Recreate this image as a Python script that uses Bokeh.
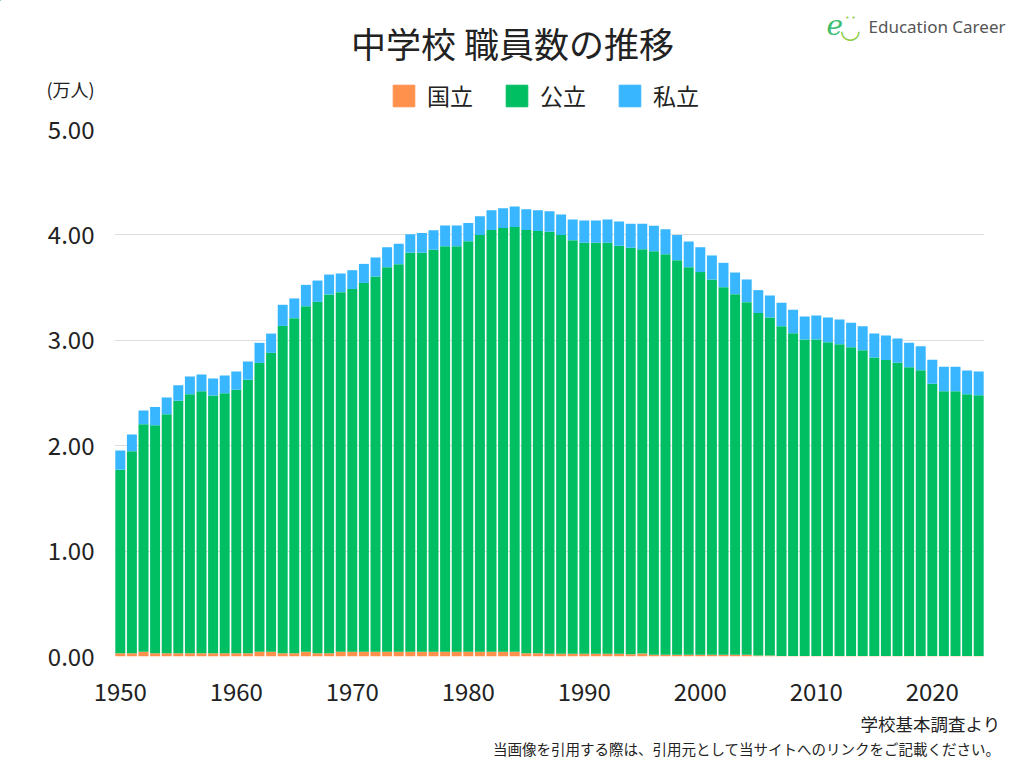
from bokeh.plotting import figure
from bokeh.layouts import column
from bokeh.models import (ColumnDataSource, Legend, LegendItem, Label, FixedTicker,
                          NumeralTickFormatter, Range1d)
from bokeh.embed import file_html
from bokeh.resources import INLINE

years = list(range(1950, 2025))

national = [0.031, 0.031, 0.044] + [0.031] * 9 + [0.044, 0.044, 0.031, 0.031, 0.044, 0.031, 0.031] \
    + [0.044] * 16 + [0.031, 0.031] + [0.027] * 7 + [0.022, 0.029] + [0.017] * 9 \
    + [0.010, 0.010] + [0.004] * 18

public = [1.740, 1.917, 2.160, 2.164, 2.268, 2.395, 2.458, 2.486, 2.445, 2.467,
          2.499, 2.594, 2.742, 2.837, 3.106, 3.179, 3.279, 3.334, 3.404, 3.413,
          3.443, 3.500, 3.561, 3.649, 3.678, 3.786, 3.786, 3.814, 3.849, 3.849,
          3.896, 3.956, 4.003, 4.022, 4.031, 4.016, 4.007, 4.002, 3.973, 3.923,
          3.898, 3.898, 3.898, 3.869, 3.855, 3.835, 3.829, 3.800, 3.743, 3.677,
          3.630, 3.560, 3.487, 3.421, 3.345, 3.249, 3.206, 3.130, 3.064, 3.004,
          3.004, 2.978, 2.959, 2.931, 2.902, 2.833, 2.808, 2.782, 2.741, 2.712,
          2.583, 2.513, 2.513, 2.485, 2.475]

private = [0.183, 0.158, 0.130, 0.171, 0.158, 0.148, 0.168, 0.159, 0.162, 0.168,
           0.174, 0.174, 0.190, 0.183, 0.200, 0.187, 0.203, 0.202, 0.189, 0.177,
           0.178, 0.181, 0.181, 0.190, 0.193, 0.177, 0.187, 0.187, 0.196, 0.196,
           0.174, 0.177, 0.187, 0.187, 0.194, 0.197, 0.196, 0.196, 0.194, 0.196,
           0.212, 0.212, 0.221, 0.231, 0.228, 0.241, 0.240, 0.237, 0.238, 0.243,
           0.237, 0.228, 0.231, 0.205, 0.215, 0.217, 0.209, 0.222, 0.222, 0.218,
           0.227, 0.234, 0.234, 0.231, 0.228, 0.228, 0.234, 0.231, 0.231, 0.228,
           0.228, 0.231, 0.231, 0.224, 0.225]

series_names = ["国立", "公立", "私立"]
series_keys = ["national", "public", "private"]
colors = ["#FF914D", "#00BF63", "#38B6FF"]
y_ticks = [0, 1, 2, 3, 4, 5]
x_ticks = [1950, 1960, 1970, 1980, 1990, 2000, 2010, 2020]

FONT = "Noto Sans CJK JP"
W = 1010
HEADER_H = 112
MAIN_H = 596
FOOTER_H = 52

# ---------------- main chart ----------------
source = ColumnDataSource(dict(year=years, national=national, public=public, private=private))

p = figure(width=W, height=MAIN_H, output_backend="svg", toolbar_location=None,
           x_range=Range1d(1949.5, 2024.5), y_range=Range1d(0, 5), frame_align=False,
           min_border_left=114, min_border_right=26, min_border_top=17, min_border_bottom=52)
p.outline_line_color = None

renderers = p.vbar_stack(series_keys, x="year", width=0.86, source=source,
                         color=colors, line_color=None)

p.xaxis.ticker = FixedTicker(ticks=x_ticks)
p.yaxis.ticker = FixedTicker(ticks=y_ticks)
p.yaxis.formatter = NumeralTickFormatter(format="0.00")
for ax in (p.xaxis, p.yaxis):
    ax.axis_line_color = None
    ax.major_tick_line_color = None
    ax.minor_tick_line_color = None
    ax.major_label_text_font = FONT
    ax.major_label_text_font_size = "24px"
    ax.major_label_text_color = "#222222"
p.xaxis.major_label_standoff = 20
p.yaxis.major_label_standoff = 14

p.xgrid.visible = False
p.ygrid.grid_line_color = "#dddddd"
p.ygrid.grid_line_width = 1


def blank_fig(height, top):
    f = figure(width=W, height=height, output_backend="svg", toolbar_location=None,
               x_range=Range1d(0, W), y_range=Range1d(top + height, top),
               x_axis_type=None, y_axis_type=None, frame_align=False,
               min_border_left=0, min_border_right=0, min_border_top=0, min_border_bottom=0)
    f.outline_line_color = None
    f.xgrid.visible = False
    f.ygrid.visible = False
    return f


def add_label(f, x, y, text, size, align="left", color="#222222", font=FONT, style="normal"):
    f.add_layout(Label(x=x, y=y, text=text, text_font=font, text_font_size=size,
                       text_align=align, text_baseline="middle", text_color=color,
                       text_font_style=style))


# ---------------- header ----------------
header = blank_fig(HEADER_H, 0)
add_label(header, 512, 42, "中学校 職員数の推移", "35px", align="center")
add_label(header, 70, 88, "(万人)", "18px", align="center")
add_label(header, 868, 26, "Education Career", "17px", color="#555555", font="Noto Sans")
add_label(header, 826, 24, "e", "28px", color="#3DBE6E", font="DejaVu Serif", style="italic")
add_label(header, 850, 29, "◡", "24px", color="#8BCB3F", font="DejaVu Sans", align="center")
add_label(header, 850, 17, "• •", "7px", color="#8BCB3F", font="DejaVu Sans", align="center")

# legend keys: one off-canvas swatch per series, used only for the legend
legend_keys = [header.vbar(x=[-1000], top=[-1000], bottom=[-1001], width=1, color=c) for c in colors]
legend = Legend(items=[LegendItem(label=n, renderers=[r]) for n, r in zip(series_names, legend_keys)],
                orientation="horizontal", location=(390, 0),
                padding=0, margin=0, spacing=30, label_standoff=10,
                glyph_width=27, glyph_height=27,
                label_text_font=FONT, label_text_font_size="23px",
                label_text_color="#222222", label_text_baseline="middle",
                border_line_color=None, background_fill_alpha=0)
header.add_layout(legend)

# ---------------- footer ----------------
footer = blank_fig(FOOTER_H, HEADER_H + MAIN_H)
add_label(footer, 1000, 723, "学校基本調査より", "17.5px", align="right")
add_label(footer, 1000, 748, "当画像を引用する際は、引用元として当サイトへのリンクをご記載ください。",
          "14.5px", align="right")

layout = column(header, p, footer, spacing=0)
open("out.html", "w").write(file_html(layout, INLINE))
